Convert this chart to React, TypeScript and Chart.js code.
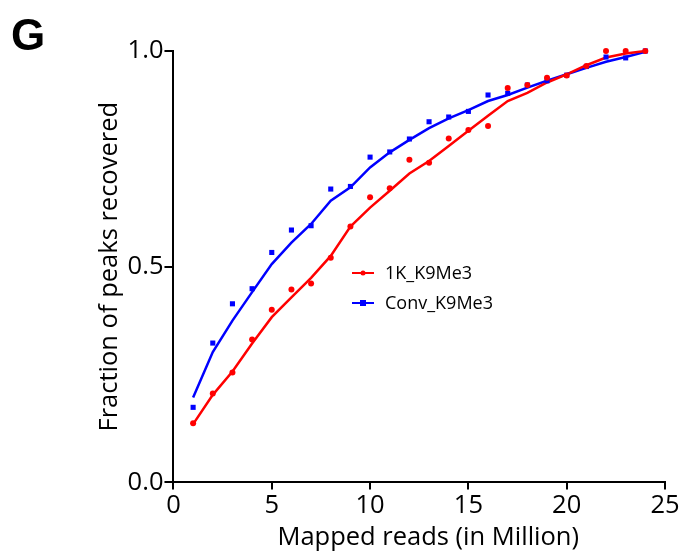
import React, { useEffect, useRef } from "react";
import { Chart, registerables } from "chart.js";

Chart.register(...registerables);

const xValues = [1, 2, 3, 4, 5, 6, 7, 8, 9, 10, 11, 12, 13, 14, 15, 16, 17, 18, 19, 20, 21, 22, 23, 24];
const redPoints = [0.137, 0.206, 0.255, 0.331, 0.4, 0.447, 0.461, 0.521, 0.593, 0.661, 0.682, 0.748, 0.741, 0.797, 0.817, 0.826, 0.914, 0.921, 0.938, 0.943, 0.965, 1.0, 1.0, 1.0];
const bluePoints = [0.174, 0.323, 0.414, 0.449, 0.533, 0.585, 0.595, 0.68, 0.686, 0.754, 0.766, 0.796, 0.836, 0.847, 0.86, 0.898, 0.902, 0.921, 0.931, 0.944, 0.964, 0.986, 0.984, 1.0];
const redFit = [0.135, 0.203, 0.257, 0.322, 0.383, 0.429, 0.474, 0.525, 0.593, 0.637, 0.676, 0.716, 0.745, 0.78, 0.815, 0.85, 0.884, 0.903, 0.927, 0.946, 0.967, 0.985, 0.994, 1.0];
const blueFit = [0.197, 0.302, 0.375, 0.441, 0.506, 0.556, 0.599, 0.653, 0.684, 0.73, 0.765, 0.794, 0.821, 0.844, 0.863, 0.884, 0.898, 0.915, 0.931, 0.946, 0.961, 0.975, 0.986, 0.998];
const seriesNames = ["1K_K9Me3", "Conv_K9Me3"];
const seriesColors = ["#ff0000", "#0000ff"];
const xTicks = [0, 5, 10, 15, 20, 25];
const yTicks = [0, 0.5, 1.0];
const xTitle = "Mapped reads (in Million)";
const yTitle = "Fraction of peaks recovered";

const FONT = "'Open Sans', 'Noto Sans', sans-serif";
const BOLD = "'Liberation Sans', Arial, sans-serif";
const FS = 25.5;

const pairs = (ys: number[]) => xValues.map((x, i) => ({ x, y: ys[i] }));

const extrasPlugin = {
  id: "extras",
  afterDraw(chart: any) {
    const ctx = chart.ctx;
    const area = chart.chartArea;
    ctx.save();
    ctx.fillStyle = "#000";
    ctx.font = `bold 44px ${BOLD}`;
    ctx.textBaseline = "alphabetic";
    ctx.textAlign = "left";
    ctx.fillText("G", 11, 50);
    // x-axis title
    ctx.font = `${FS}px ${FONT}`;
    ctx.textAlign = "center";
    ctx.textBaseline = "middle";
    ctx.fillText(xTitle, (area.left + area.right) / 2 + 9, chart.height - 15.5);
    // legend
    ctx.textAlign = "left";
    const lx = 352;
    const rows = [273, 303];
    rows.forEach((ly, i) => {
      ctx.strokeStyle = seriesColors[i];
      ctx.fillStyle = seriesColors[i];
      ctx.lineWidth = 2;
      ctx.beginPath();
      ctx.moveTo(lx, ly);
      ctx.lineTo(lx + 22, ly);
      ctx.stroke();
      if (i === 0) {
        ctx.beginPath();
        ctx.arc(lx + 11, ly, 2.5, 0, Math.PI * 2);
        ctx.fill();
      } else {
        ctx.fillRect(lx + 8, ly - 3, 6, 6);
      }
      ctx.fillStyle = "#000";
      ctx.font = `18px ${FONT}`;
      ctx.textBaseline = "middle";
      ctx.fillText(seriesNames[i], lx + 33, ly + 1);
    });
    ctx.restore();
  },
};

export default function App() {
  const ref = useRef<HTMLCanvasElement | null>(null);
  useEffect(() => {
    if (!ref.current) return;
    const chart = new Chart(ref.current, {
      type: "scatter",
      data: {
        datasets: [
          {
            label: seriesNames[0] + " points",
            data: pairs(redPoints),
            showLine: false,
            pointStyle: "circle",
            pointRadius: 3,
            backgroundColor: seriesColors[0],
            borderColor: seriesColors[0],
            borderWidth: 0,
            clip: false,
            order: 0,
          },
          {
            label: seriesNames[1] + " points",
            data: pairs(bluePoints),
            showLine: false,
            pointStyle: "rect",
            pointRadius: 3.6,
            backgroundColor: seriesColors[1],
            borderColor: seriesColors[1],
            borderWidth: 0,
            clip: false,
            order: 0,
          },
          {
            label: seriesNames[0],
            data: pairs(redFit),
            showLine: true,
            pointRadius: 0,
            borderColor: seriesColors[0],
            borderWidth: 2.5,
            tension: 0,
            clip: false,
            order: 1,
          },
          {
            label: seriesNames[1],
            data: pairs(blueFit),
            showLine: true,
            pointRadius: 0,
            borderColor: seriesColors[1],
            borderWidth: 2.5,
            tension: 0,
            clip: false,
            order: 1,
          },
        ],
      },
      options: {
        animation: false,
        responsive: true,
        maintainAspectRatio: false,
        layout: { padding: { top: 51, right: 27, bottom: 31, left: 94 } },
        plugins: { legend: { display: false }, tooltip: { enabled: false } },
        scales: {
          x: {
            type: "linear",
            min: 0,
            max: 25,
            afterBuildTicks: (axis: any) => {
              axis.ticks = xTicks.map((v) => ({ value: v }));
            },
            ticks: { color: "#000", font: { family: FONT, size: FS }, padding: 1, maxRotation: 0 },
            grid: { drawOnChartArea: false, drawTicks: true, tickLength: 7, tickColor: "#000", lineWidth: 2 },
            border: { color: "#000", width: 2 },
            title: { display: false, text: xTitle },
          },
          y: {
            type: "linear",
            min: 0,
            max: 1,
            afterBuildTicks: (axis: any) => {
              axis.ticks = yTicks.map((v) => ({ value: v }));
            },
            ticks: { color: "#000", font: { family: FONT, size: FS }, padding: 1, callback: (v: any) => Number(v).toFixed(1) },
            grid: { drawOnChartArea: false, drawTicks: true, tickLength: 9, tickColor: "#000", lineWidth: 2 },
            border: { color: "#000", width: 2 },
            title: { display: true, text: yTitle, color: "#000", font: { family: FONT, size: FS }, padding: { top: 0, bottom: 2 } },
          },
        },
      },
      plugins: [extrasPlugin],
    });
    return () => chart.destroy();
  }, []);
  return (
    <div style={{ position: "fixed", left: 0, top: 0, width: 692, height: 553, background: "#fff" }}>
      <canvas ref={ref} />
    </div>
  );
}
